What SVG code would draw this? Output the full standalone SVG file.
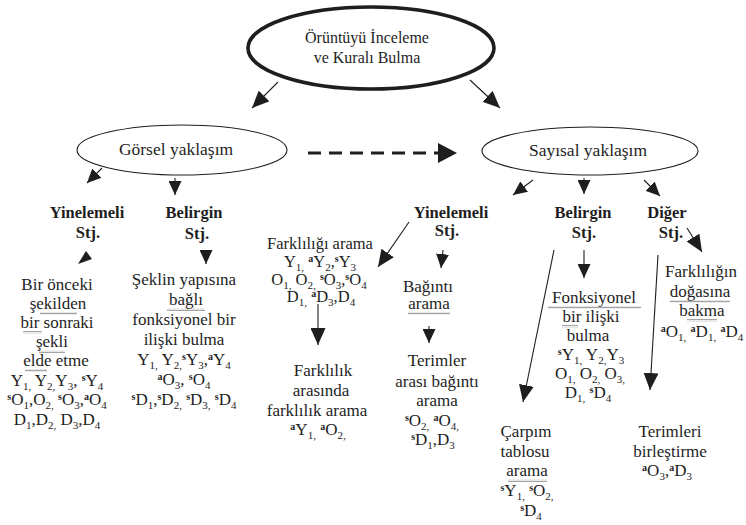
<svg xmlns="http://www.w3.org/2000/svg" width="746" height="525" viewBox="0 0 746 525" font-family="'Liberation Serif', serif">
<style>
.t{font-family:'Liberation Serif','Times New Roman',serif;font-size:17px;fill:#1e1e1e;text-anchor:middle}
.b{font-weight:bold;font-size:16.5px}
.sm{font-size:16.5px}
.sub{font-size:11px;baseline-shift:-4px}
.sup{font-size:10px;baseline-shift:5px;font-weight:bold}
.ln{stroke:#1e1e1e;stroke-width:1.1;fill:none}
.el{fill:#fff;stroke:#1e1e1e;stroke-width:1.1}
.wv{fill:url(#wavy)}
</style>
<defs>
<marker id="ah" markerUnits="userSpaceOnUse" markerWidth="15" markerHeight="13" refX="14" refY="6.5" orient="auto"><path d="M0,0 L14,6.5 L0,13 z" fill="#1e1e1e"/></marker>
<marker id="ahL" markerUnits="userSpaceOnUse" markerWidth="18" markerHeight="15" refX="17" refY="7.5" orient="auto"><path d="M0,0 L17,7.5 L0,15 z" fill="#1e1e1e"/></marker>
<pattern id="wavy" width="4" height="3" patternUnits="userSpaceOnUse"><path d="M0,2.3 L1,0.7 L2,2.3 L3,0.7 L4,2.3" stroke="#8c8c8c" stroke-width="0.8" fill="none"/></pattern>
</defs>

<g id="connectors">
<line class="ln" x1="278" y1="82" x2="252" y2="108" marker-end="url(#ahL)"/>
<line class="ln" x1="470" y1="80" x2="500" y2="108" marker-end="url(#ahL)"/>
<line x1="308" y1="153" x2="440" y2="153" stroke="#1e1e1e" stroke-width="3" stroke-dasharray="13 8"/>
<polygon points="438,143 457,153 438,163" fill="#1e1e1e"/>
<line class="ln" x1="102" y1="168" x2="87" y2="183" marker-end="url(#ah)"/>
<line class="ln" x1="175" y1="178" x2="175" y2="195" marker-end="url(#ah)"/>
<line class="ln" x1="533" y1="180" x2="513" y2="195" marker-end="url(#ah)"/>
<line class="ln" x1="584" y1="178" x2="584" y2="194" marker-end="url(#ah)"/>
<line class="ln" x1="644" y1="180" x2="660" y2="196" marker-end="url(#ah)"/>
<polygon points="78,264 92,259 86,251" fill="#1e1e1e"/>
<line class="ln" x1="206" y1="250" x2="206" y2="264" marker-end="url(#ah)"/>
<line class="ln" x1="409" y1="222" x2="378" y2="267" marker-end="url(#ahL)"/>
<line class="ln" x1="443" y1="250" x2="441" y2="268" marker-end="url(#ah)"/>
<line class="ln" x1="318" y1="304" x2="318" y2="345" marker-end="url(#ahL)"/>
<line class="ln" x1="429" y1="326" x2="429" y2="343" marker-end="url(#ah)"/>
<line class="ln" x1="554" y1="250" x2="523" y2="402" marker-end="url(#ahL)"/>
<line class="ln" x1="584" y1="250" x2="584" y2="278" marker-end="url(#ah)"/>
<line class="ln" x1="658" y1="255" x2="650" y2="390" marker-end="url(#ahL)"/>
<line class="ln" x1="687" y1="228" x2="702" y2="252" marker-end="url(#ahL)"/>
</g>

<g id="root">
<ellipse cx="371" cy="48" rx="123" ry="41" fill="#fff" stroke="#1e1e1e" stroke-width="3.6"/>
<text class="t" x="367" y="43" style="font-size:16px">Örüntüyü İnceleme</text>
<text class="t" x="367" y="63" style="font-size:16px">ve Kuralı Bulma</text>
</g>

<g id="gorsel">
<ellipse class="el" cx="182" cy="150" rx="105" ry="25"/>
<text class="t" x="176" y="155" style="font-size:17.5px">Görsel yaklaşım</text>
</g>

<g id="sayisal">
<ellipse class="el" cx="590" cy="151" rx="108" ry="24"/>
<text class="t" x="588" y="156" style="font-size:17.5px">Sayısal yaklaşım</text>
</g>

<g id="g-yinelemeli">
<text class="t b" x="87" y="218">Yinelemeli</text>
<text class="t b" x="88" y="238">Stj.</text>
</g>

<g id="g-belirgin">
<text class="t b" x="194" y="218">Belirgin</text>
<text class="t b" x="197" y="239">Stj.</text>
</g>

<g id="g-onceki">
<text class="t" x="57" y="290">Bir önceki</text>
<text class="t" x="58" y="309">şekilden</text>
<text class="t" x="57" y="328">bir sonraki</text>
<text class="t" x="52" y="347">şekli</text>
<text class="t" x="56" y="366">elde etme</text>
<text class="t" x="57" y="386">Y<tspan class="sub">1,</tspan> Y<tspan class="sub">2,</tspan>Y<tspan class="sub">3</tspan>, <tspan class="sup">s</tspan>Y<tspan class="sub">4</tspan></text>
<text class="t" x="57" y="405"><tspan class="sup">s</tspan>O<tspan class="sub">1</tspan>,O<tspan class="sub">2,</tspan> <tspan class="sup">s</tspan>O<tspan class="sub">3</tspan>,<tspan class="sup">a</tspan>O<tspan class="sub">4</tspan></text>
<text class="t" x="57" y="425">D<tspan class="sub">1</tspan>,D<tspan class="sub">2,</tspan> D<tspan class="sub">3</tspan>,D<tspan class="sub">4</tspan></text>
<rect class="wv" x="40" y="312" width="37" height="3"/>
<rect class="wv" x="23" y="331" width="19" height="3"/>
<rect class="wv" x="39" y="350" width="26" height="3"/>
<rect class="wv" x="25" y="369" width="22" height="3"/>
</g>

<g id="g-sekil">
<text class="t" x="184" y="285">Şeklin yapısına</text>
<text class="t" x="186" y="305">bağlı</text>
<text class="t" x="184" y="325">fonksiyonel bir</text>
<text class="t" x="184" y="345">ilişki bulma</text>
<text class="t" x="184" y="365">Y<tspan class="sub">1,</tspan> Y<tspan class="sub">2,</tspan><tspan class="sup">s</tspan>Y<tspan class="sub">3</tspan>,<tspan class="sup">a</tspan>Y<tspan class="sub">4</tspan></text>
<text class="t" x="184" y="385"><tspan class="sup">a</tspan>O<tspan class="sub">3</tspan>, <tspan class="sup">s</tspan>O<tspan class="sub">4</tspan></text>
<text class="t" x="184" y="405"><tspan class="sup">s</tspan>D<tspan class="sub">1</tspan>,<tspan class="sup">s</tspan>D<tspan class="sub">2,</tspan> <tspan class="sup">s</tspan>D<tspan class="sub">3,</tspan> <tspan class="sup">s</tspan>D<tspan class="sub">4</tspan></text>
<rect class="wv" x="167" y="308" width="38" height="3"/>
</g>

<g id="s-yinelemeli">
<text class="t b" x="451" y="218">Yinelemeli</text>
<text class="t b" x="447" y="236">Stj.</text>
</g>

<g id="s-farkliligi">
<text class="t sm" x="320" y="249">Farklılığı arama</text>
<text class="t sm" x="320" y="267">Y<tspan class="sub">1,</tspan> <tspan class="sup">a</tspan>Y<tspan class="sub">2</tspan>,<tspan class="sup">s</tspan>Y<tspan class="sub">3</tspan></text>
<text class="t sm" x="319" y="285">O<tspan class="sub">1,</tspan> O<tspan class="sub">2,</tspan> <tspan class="sup">s</tspan>O<tspan class="sub">3</tspan>,<tspan class="sup">s</tspan>O<tspan class="sub">4</tspan></text>
<text class="t sm" x="321" y="302">D<tspan class="sub">1,</tspan> <tspan class="sup">a</tspan>D<tspan class="sub">3</tspan>,D<tspan class="sub">4</tspan></text>
</g>

<g id="s-farklilik">
<text class="t" x="323" y="376">Farklılık</text>
<text class="t" x="321" y="396">arasında</text>
<text class="t" x="317" y="416">farklılık arama</text>
<text class="t" x="318" y="435"><tspan class="sup">a</tspan>Y<tspan class="sub">1,</tspan> <tspan class="sup">a</tspan>O<tspan class="sub">2,</tspan></text>
</g>

<g id="s-baginti">
<text class="t" x="428" y="292">Bağıntı</text>
<text class="t" x="429" y="309">arama</text>
<rect class="wv" x="408" y="312" width="42" height="3"/>
</g>

<g id="s-terimler">
<text class="t" x="437" y="366">Terimler</text>
<text class="t" x="437" y="387">arası bağıntı</text>
<text class="t" x="437" y="406">arama</text>
<text class="t" x="432" y="426"><tspan class="sup">s</tspan>O<tspan class="sub">2,</tspan> <tspan class="sup">a</tspan>O<tspan class="sub">4,</tspan></text>
<text class="t" x="433" y="445"><tspan class="sup">s</tspan>D<tspan class="sub">1</tspan>,D<tspan class="sub">3</tspan></text>
</g>

<g id="s-belirgin">
<text class="t b" x="583" y="218">Belirgin</text>
<text class="t b" x="584" y="238">Stj.</text>
</g>

<g id="s-diger">
<text class="t b" x="667" y="218">Diğer</text>
<text class="t b" x="671" y="238">Stj.</text>
</g>

<g id="s-fonksiyonel">
<text class="t" x="594" y="303">Fonksiyonel</text>
<text class="t" x="591" y="322">bir ilişki</text>
<text class="t" x="588" y="341">bulma</text>
<text class="t" x="591" y="360"><tspan class="sup">s</tspan>Y<tspan class="sub">1,</tspan> Y<tspan class="sub">2,</tspan>Y<tspan class="sub">3</tspan></text>
<text class="t" x="590" y="379">O<tspan class="sub">1,</tspan> O<tspan class="sub">2,</tspan> O<tspan class="sub">3,</tspan></text>
<text class="t" x="588" y="398">D<tspan class="sub">1,</tspan> <tspan class="sup">s</tspan>D<tspan class="sub">4</tspan></text>
<rect class="wv" x="548" y="306" width="93" height="3"/>
<rect class="wv" x="562" y="325" width="16" height="3"/>
</g>

<g id="s-dogasina">
<text class="t" x="701" y="277">Farklılığın</text>
<text class="t" x="700" y="297">doğasına</text>
<text class="t" x="702" y="316">bakma</text>
<text class="t" x="702" y="337"><tspan class="sup">a</tspan>O<tspan class="sub">1,</tspan> <tspan class="sup">a</tspan>D<tspan class="sub">1,</tspan> <tspan class="sup">a</tspan>D<tspan class="sub">4</tspan></text>
<rect class="wv" x="670" y="300" width="60" height="3"/>
<rect class="wv" x="687" y="319" width="30" height="3"/>
</g>

<g id="s-carpim">
<text class="t" x="526" y="437">Çarpım</text>
<text class="t" x="525" y="457">tablosu</text>
<text class="t" x="527" y="476">arama</text>
<text class="t" x="527" y="496"><tspan class="sup">s</tspan>Y<tspan class="sub">1,</tspan> <tspan class="sup">s</tspan>O<tspan class="sub">2,</tspan></text>
<text class="t" x="531" y="516"><tspan class="sup">s</tspan>D<tspan class="sub">4</tspan></text>
<rect class="wv" x="508" y="479" width="39" height="3"/>
</g>

<g id="s-birlestirme">
<text class="t" x="670" y="437">Terimleri</text>
<text class="t" x="670" y="457">birleştirme</text>
<text class="t" x="667" y="476"><tspan class="sup">a</tspan>O<tspan class="sub">3</tspan>,<tspan class="sup">a</tspan>D<tspan class="sub">3</tspan></text>
</g>
</svg>
